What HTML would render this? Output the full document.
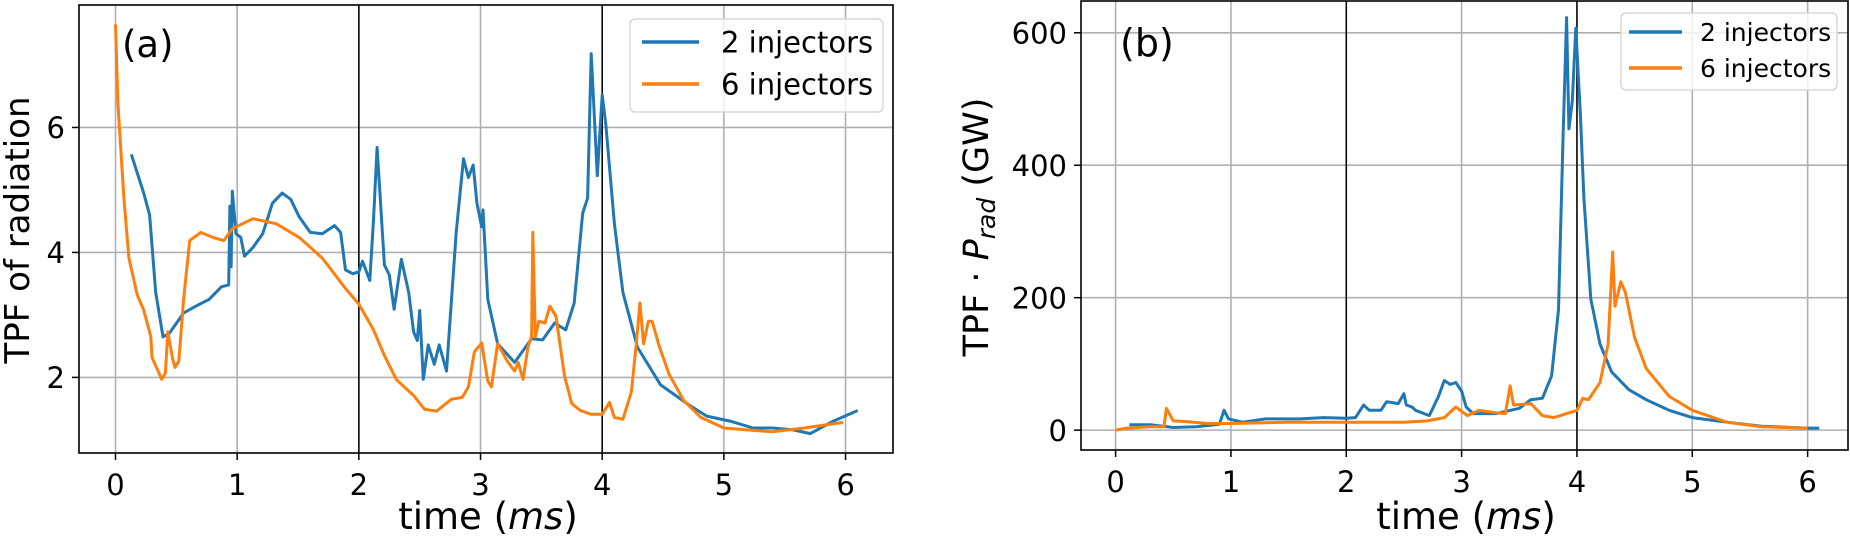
<!DOCTYPE html>
<html><head><meta charset="utf-8"><style>
body{margin:0;background:#fff}
svg{display:block;font-family:"DejaVu Sans","Liberation Sans",sans-serif}
</style></head><body>
<svg id="fig" width="1850" height="538" viewBox="0 0 1850 538"></svg>
<script>
const ticksX=[0,1,2,3,4,5,6];
const ticksYa=[2,4,6];
const ticksYb=[0,200,400,600];
const markersX=[2,4];
const aBlueT=[0.13,0.23,0.28,0.33,0.39,0.44,0.56,0.66,0.77,0.87,0.93,0.94,0.95,0.96,0.99,1.03,1.06,1.13,1.21,1.29,1.37,1.44,1.51,1.6,1.7,1.8,1.85,1.89,1.95,2.0,2.03,2.09,2.12,2.15,2.21,2.25,2.29,2.35,2.41,2.45,2.48,2.5,2.53,2.57,2.62,2.66,2.72,2.8,2.86,2.9,2.94,2.97,3.01,3.02,3.06,3.14,3.28,3.42,3.51,3.61,3.7,3.77,3.84,3.88,3.91,3.96,4.0,4.03,4.1,4.17,4.29,4.48,4.72,4.86,5.05,5.24,5.4,5.57,5.71,5.9,6.1];
const aBlueV=[5.57,4.96,4.6,3.36,2.65,2.7,3.03,3.14,3.25,3.45,3.48,4.74,3.77,4.98,4.3,4.24,3.94,4.08,4.3,4.79,4.95,4.85,4.57,4.32,4.3,4.43,4.32,3.72,3.66,3.69,3.86,3.55,4.52,5.68,3.8,3.64,3.09,3.89,3.36,2.73,2.59,3.07,1.97,2.52,2.21,2.52,2.1,4.32,5.5,5.2,5.4,4.79,4.41,4.68,3.25,2.54,2.24,2.62,2.6,2.87,2.76,3.19,4.63,4.87,7.18,5.23,6.52,6.05,4.46,3.36,2.48,1.88,1.55,1.38,1.3,1.19,1.19,1.16,1.1,1.3,1.47];
const aOrangeT=[0.0,0.02,0.07,0.11,0.18,0.23,0.29,0.3,0.38,0.41,0.43,0.47,0.49,0.52,0.56,0.61,0.7,0.8,0.89,0.96,1.13,1.32,1.51,1.7,1.88,2.0,2.12,2.21,2.31,2.45,2.54,2.64,2.76,2.85,2.9,2.95,3.01,3.06,3.09,3.14,3.22,3.28,3.31,3.35,3.39,3.42,3.43,3.45,3.48,3.53,3.57,3.62,3.69,3.75,3.82,3.91,4.0,4.06,4.1,4.17,4.24,4.28,4.31,4.34,4.38,4.41,4.47,4.55,4.67,4.81,5.0,5.19,5.4,5.66,5.98];
const aOrangeV=[7.65,6.38,4.85,3.91,3.31,3.09,2.65,2.32,1.97,2.07,2.73,2.29,2.16,2.26,3.25,4.19,4.32,4.24,4.19,4.38,4.54,4.46,4.24,3.91,3.45,3.17,2.76,2.35,1.96,1.71,1.49,1.46,1.65,1.68,1.85,2.41,2.55,1.94,1.85,2.54,2.26,2.1,2.24,1.97,2.49,2.65,4.32,2.65,2.9,2.87,3.14,2.98,2.02,1.58,1.47,1.41,1.41,1.6,1.36,1.33,1.77,2.54,3.19,2.54,2.9,2.9,2.49,2.05,1.63,1.36,1.19,1.16,1.13,1.19,1.28];
const bBlueT=[0.12,0.3,0.5,0.7,0.9,0.94,0.98,1.1,1.3,1.6,1.8,2.0,2.08,2.15,2.2,2.3,2.35,2.45,2.5,2.52,2.57,2.6,2.72,2.8,2.85,2.9,2.95,3.0,3.04,3.1,3.3,3.5,3.6,3.7,3.78,3.84,3.88,3.91,3.93,3.96,3.99,4.03,4.06,4.12,4.2,4.3,4.45,4.6,4.8,5.0,5.3,5.6,6.0,6.1];
const bBlueV=[8,8,4,5,9,30,17,12,17,17,19,18,19,38,30,30,43,40,55,38,35,30,22,51,75,69,72,59,35,25,25,33,46,48,82,182,445,623,455,497,607,476,350,198,130,88,61,46,30,19,12,6,3,3];
const bOrangeT=[0.0,0.1,0.3,0.42,0.44,0.5,0.6,0.8,1.0,1.5,2.0,2.5,2.7,2.85,2.95,3.05,3.15,3.3,3.38,3.42,3.45,3.6,3.7,3.8,4.0,4.05,4.1,4.2,4.27,4.31,4.33,4.38,4.42,4.5,4.6,4.8,5.0,5.3,5.6,6.0];
const bOrangeV=[0,3,5,5,33,14,13,10,10,12,12,12,14,19,35,22,30,26,25,67,38,40,22,19,30,48,46,72,130,269,187,224,208,140,93,51,30,12,5,3];

const NS='http://www.w3.org/2000/svg';
const svg=document.getElementById('fig');
function mk(tag,at,parent){const e=document.createElementNS(NS,tag);for(const k in at)e.setAttribute(k,at[k]);(parent||svg).appendChild(e);return e;}

function panel(cfg){
  const g=mk('g',{});
  
  
  const sx=v=>cfg.x0+(v-cfg.xmin)/(cfg.xmax-cfg.xmin)*(cfg.x1-cfg.x0);
  const sy=v=>cfg.y1-(v-cfg.ymin)/(cfg.ymax-cfg.ymin)*(cfg.y1-cfg.y0);
  ticksX.forEach(t=>{
    const l=mk('line',{x1:sx(t),x2:sx(t),y1:cfg.y0,y2:cfg.y1,stroke:'#b0b0b0','stroke-width':1.6},g);
    
    
    const tk=mk('line',{x1:sx(t),x2:sx(t),y1:cfg.y1,y2:cfg.y1+7,stroke:'#000','stroke-width':1.5},g);
    
    
    const tx=mk('text',{x:sx(t),y:cfg.y1+42,'text-anchor':'middle','font-size':cfg.tfs,fill:'#000'},g);
    
    
    tx.textContent=t;
  });
  cfg.yticks.forEach(t=>{
    const l=mk('line',{x1:cfg.x0,x2:cfg.x1,y1:sy(t),y2:sy(t),stroke:'#b0b0b0','stroke-width':1.6},g);
    
    
    const tk=mk('line',{x1:cfg.x0-7,x2:cfg.x0,y1:sy(t),y2:sy(t),stroke:'#000','stroke-width':1.5},g);
    
    
    const tx=mk('text',{x:cfg.x0-14,y:sy(t)+cfg.tfs*0.37,'text-anchor':'end','font-size':cfg.tfs,fill:'#000'},g);
    
    
    tx.textContent=t;
  });
  markersX.forEach(t=>{
    const l=mk('line',{x1:sx(t),x2:sx(t),y1:cfg.y0,y2:cfg.y1,stroke:'#000','stroke-width':1.5},g);
    
    
  });
  const clipId='clip'+cfg.name;
  const cp=mk('clipPath',{id:clipId},g);
  mk('rect',{x:cfg.x0,y:cfg.y0,width:cfg.x1-cfg.x0,height:cfg.y1-cfg.y0},cp);
  cfg.series.forEach(s=>{
    const d=s.t.map((t,i)=>(i?'L':'M')+sx(t).toFixed(1)+','+sy(s.v[i]).toFixed(1)).join('');
    const p=mk('path',{d:d,fill:'none',stroke:s.color,'stroke-width':3,'stroke-linejoin':'round','clip-path':'url(#'+clipId+')'},g);
    
    
  });
  const fr=mk('rect',{x:cfg.x0,y:cfg.y0,width:cfg.x1-cfg.x0,height:cfg.y1-cfg.y0,fill:'none',stroke:'#000','stroke-width':1.6},g);
  
  
  const L=cfg.legend;
  const lg=mk('g',{},g);
  
  
  mk('rect',{x:L.x,y:L.y,width:L.w,height:L.h,rx:5,fill:'rgba(255,255,255,0.8)',stroke:'#d8d8d8','stroke-width':1.5},lg);
  cfg.series.forEach((s,i)=>{
    const yy=L.ly[i];
    const e=mk('g',{},lg);
    
    
    mk('line',{x1:L.lx0,x2:L.lx1,y1:yy,y2:yy,stroke:s.color,'stroke-width':3.5},e);
    const tx=mk('text',{x:L.tx,y:yy+L.fs*0.36,'font-size':L.fs,fill:'#000'},e);
    tx.textContent=s.label;
  });
}

panel({name:'panel-a',x0:79,x1:893,y0:5,y1:453,xmin:-0.3,xmax:6.39,ymin:0.79,ymax:7.96,yticks:ticksYa,tfs:29,
  series:[{name:'series-2-injectors',label:'2 injectors',color:'#1f77b4',t:aBlueT,v:aBlueV},
          {name:'series-6-injectors',label:'6 injectors',color:'#ff7f0e',t:aOrangeT,v:aOrangeV}],
  legend:{x:630,y:19,w:253,h:93,lx0:642,lx1:699,ly:[42,84],tx:721,fs:29}});
panel({name:'panel-b',x0:1081,x1:1848,y0:1,y1:450,xmin:-0.3,xmax:6.35,ymin:-30,ymax:648,yticks:ticksYb,tfs:29,
  series:[{name:'series-2-injectors',label:'2 injectors',color:'#1f77b4',t:bBlueT,v:bBlueV},
          {name:'series-6-injectors',label:'6 injectors',color:'#ff7f0e',t:bOrangeT,v:bOrangeV}],
  legend:{x:1621,y:13,w:216,h:77,lx0:1629,lx1:1682,ly:[32,68],tx:1700,fs:25}});
</script>
<svg style="position:absolute;left:0;top:0" width="1850" height="538">
<text x="122" y="57" font-size="37" font-family="DejaVu Sans,sans-serif">(a)</text>
<text x="1120" y="56" font-size="38" font-family="DejaVu Sans,sans-serif">(b)</text>
<text x="488" y="529" font-size="37" text-anchor="middle" font-family="DejaVu Sans,sans-serif">time (<tspan font-style="italic">ms</tspan>)</text>
<text x="1466" y="529" font-size="37" text-anchor="middle" font-family="DejaVu Sans,sans-serif">time (<tspan font-style="italic">ms</tspan>)</text>
<text transform="translate(29,230) rotate(-90)" font-size="34" text-anchor="middle" font-family="DejaVu Sans,sans-serif">TPF of radiation</text>
<text transform="translate(988,227) rotate(-90)" font-size="35" text-anchor="middle" font-family="DejaVu Sans,sans-serif">TPF · <tspan font-style="italic">P</tspan><tspan font-style="italic" font-size="25" dy="7">rad</tspan><tspan dy="-7"> (GW)</tspan></text>
</svg>
</body></html>
